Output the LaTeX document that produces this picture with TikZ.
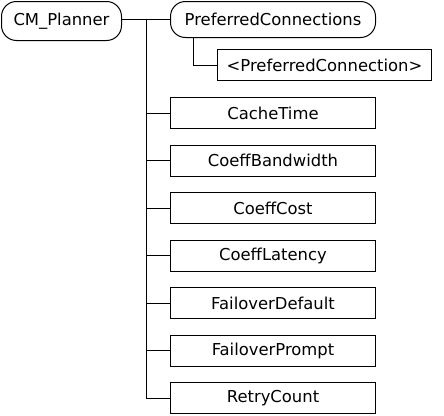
\documentclass[tikz,border=0pt]{standalone}
\usepackage{fontspec}
\setmainfont{DejaVu Sans}
\usepackage{tikz}
\usetikzlibrary{calc, positioning}
\tikzset{
  every node/.style={font=\fontsize{16.4}{20}\selectfont, inner sep=0pt},
  roundbox/.style={draw, line width=1pt, rounded corners=15pt, anchor=north west, minimum height=36pt},
  elembox/.style={draw, line width=1pt, anchor=north west, minimum width=205pt, minimum height=31pt},
  link/.style={line width=1pt}
}

\begin{document}
\begin{tikzpicture}[x=1pt, y=-1pt]
        \useasboundingbox (0,0) rectangle (444,415);
        % root and container
        \node[roundbox, minimum width=120pt, minimum height=39pt] (planner) at (1,1) {CM\_Planner};
        \node[roundbox, minimum width=205pt] (prefconns) at (170,1) {PreferredConnections};
        \node[elembox, minimum width=214pt] (prefconn) at (217,49) {<PreferredConnection>};
        % elements
        \node[elembox] (cachetime) at (170,97) {CacheTime};
        \node[elembox] (coeffbw) at (170,144.5) {CoeffBandwidth};
        \node[elembox] (coeffcost) at (170,192) {CoeffCost};
        \node[elembox] (coefflat) at (170,239.5) {CoeffLatency};
        \node[elembox] (faildef) at (170,287) {FailoverDefault};
        \node[elembox] (failprompt) at (170,334.5) {FailoverPrompt};
        \node[elembox] (retry) at (170,382) {RetryCount};
        % connectors
        \coordinate (trunk) at (146,18.5);
        \draw[link] (planner.east |- prefconns.west) -- (prefconns.west);
        \draw[link] (trunk) |- (retry.west);
        \foreach \el in {cachetime, coeffbw, coeffcost, coefflat, faildef, failprompt}
            \draw[link] (trunk |- \el.west) -- (\el.west);
        \draw[link] ([xshift=23pt]prefconns.south west) |- (prefconn.west);
    \end{tikzpicture}
\end{document}
